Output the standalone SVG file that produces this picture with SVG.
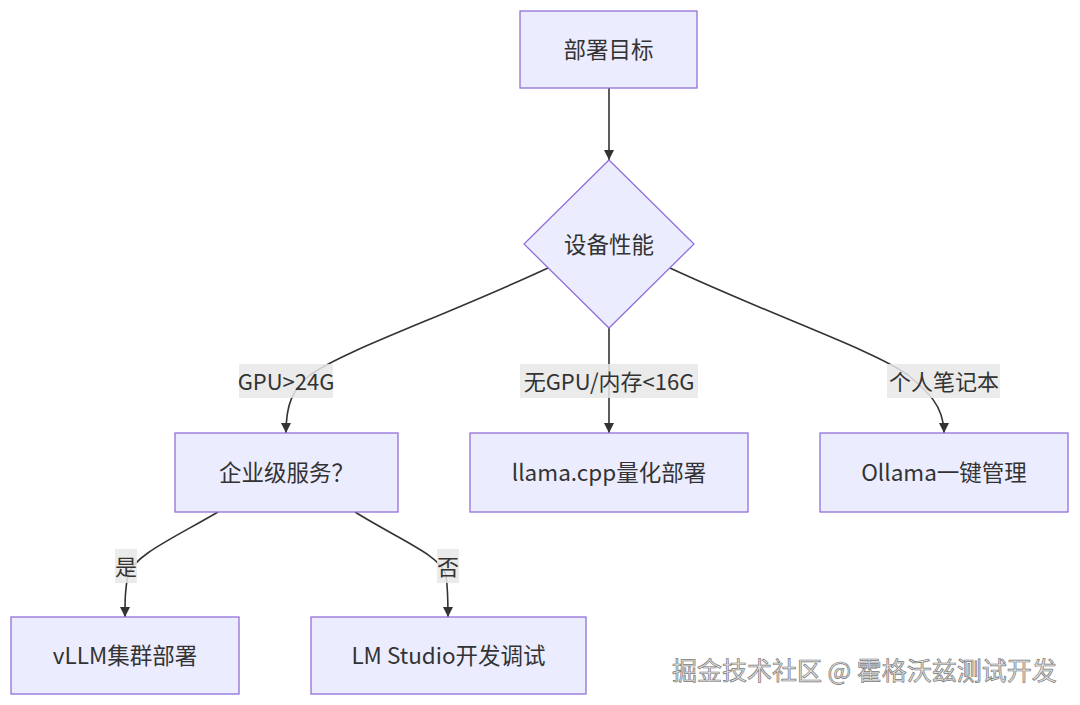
<svg xmlns="http://www.w3.org/2000/svg" width="1080" height="705" viewBox="0 0 1080 705">
<style>
.node rect,.node polygon{fill:#ECECFF;stroke:#9370DB;stroke-width:1.3}
text{font-family:"Noto Sans CJK SC","Noto Sans",sans-serif;font-size:22px;fill:#333;text-anchor:middle;dominant-baseline:central}
.node text{font-size:22.5px}
.edge{fill:none;stroke:#333;stroke-width:1.6}
.lbl rect{fill:#e8e8e8;opacity:0.85}
.wm{font-size:25px;fill:#e2e2e2;stroke:#7a7a7a;stroke-width:0.7;text-anchor:start}
</style>
<defs>
<marker id="arr" viewBox="0 0 10 10" refX="10" refY="5" markerWidth="10" markerHeight="10" markerUnits="userSpaceOnUse" orient="auto">
<path d="M0,0 L10,5 L0,10 z" fill="#333"/>
</marker>
</defs>
<rect width="1080" height="705" fill="#fff"/>
<g id="edges">
<path class="edge" d="M609,88 L609,160" marker-end="url(#arr)"/>
<path class="edge" d="M548,268 C440,318 345,350 310,375 C292,390 286,405 286,433" marker-end="url(#arr)"/>
<path class="edge" d="M609,328 L609,433" marker-end="url(#arr)"/>
<path class="edge" d="M670,268 C778,318 873,350 908,375 C926,390 944,405 944,433" marker-end="url(#arr)"/>
<path class="edge" d="M218,512 C170,540 135,555 128,575 C125,590 125,600 125,617" marker-end="url(#arr)"/>
<path class="edge" d="M355,512 C400,540 440,555 446,575 C448,590 448,600 448,617" marker-end="url(#arr)"/>
</g>
<g id="edge-labels">
<g class="lbl"><rect x="239" y="364" width="94" height="34"/><text x="286" y="380">GPU&gt;24G</text></g>
<g class="lbl"><rect x="520" y="364" width="178" height="34"/><text x="609" y="380">无GPU/内存&lt;16G</text></g>
<g class="lbl"><rect x="887" y="364" width="113" height="34"/><text x="944" y="380">个人笔记本</text></g>
<g class="lbl"><rect x="115" y="549" width="22" height="34"/><text x="126" y="565">是</text></g>
<g class="lbl"><rect x="437" y="549" width="22" height="34"/><text x="448" y="565">否</text></g>
</g>
<g id="n-goal" class="node"><rect x="520" y="11" width="177" height="77"/><text x="608.5" y="48">部署目标</text></g>
<g id="n-perf" class="node"><polygon points="609,160 694,244 609,328 524,244"/><text x="609" y="242.5">设备性能</text></g>
<g id="n-ent" class="node"><rect x="175" y="433" width="223" height="79"/><text x="286.5" y="471">企业级服务？</text></g>
<g id="n-llama" class="node"><rect x="470" y="433" width="278" height="79"/><text x="609" y="471">llama.cpp量化部署</text></g>
<g id="n-ollama" class="node"><rect x="820" y="433" width="248" height="79"/><text x="944" y="471">Ollama一键管理</text></g>
<g id="n-vllm" class="node"><rect x="11" y="617" width="228" height="77"/><text x="125" y="654">vLLM集群部署</text></g>
<g id="n-lms" class="node"><rect x="311" y="617" width="275" height="77"/><text x="448.5" y="654">LM Studio开发调试</text></g>
<text class="wm" x="672" y="669">掘金技术社区 @ 霍格沃兹测试开发</text>
</svg>
